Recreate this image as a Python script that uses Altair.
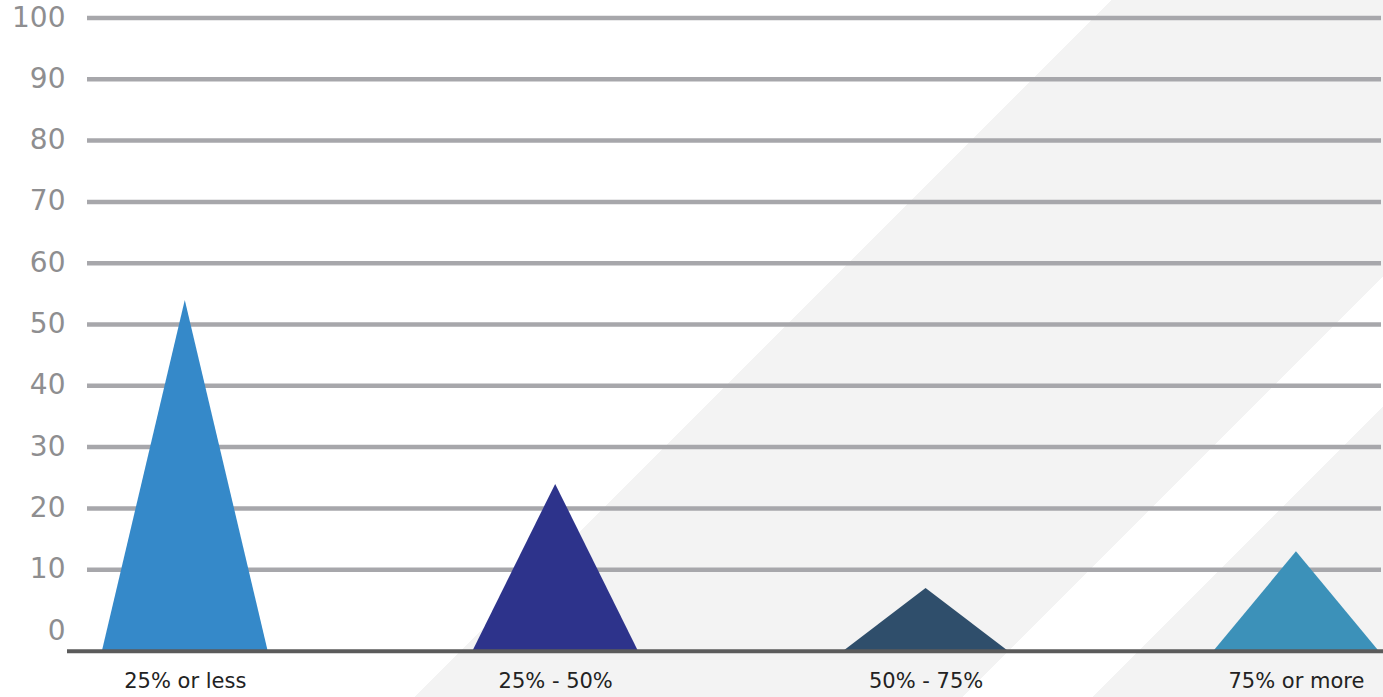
import json
import altair as alt
import pandas as pd

# ---- data ----
categories = ["25% or less", "25% - 50%", "50% - 75%", "75% or more"]
values = [54, 24, 7, 13]
colors = ["#3589c9", "#2d338b", "#2f4e6b", "#3c91b9"]
y_ticks = [0, 10, 20, 30, 40, 50, 60, 70, 80, 90, 100]
grid_values = [10, 20, 30, 40, 50, 60, 70, 80, 90, 100]

# ---- style constants ----
BASE = -3.3          # baseline drawn slightly below zero, as in the reference
HALF = 0.224         # half base width of a triangle, in category units
W, H = 1316, 656
PAD_L, PAD_B = 67, 41

# triangle vertex table built from the values
rows = []
for i, (c, v) in enumerate(zip(categories, values)):
    rows.append({"cat": c, "x": i - HALF, "y": BASE, "base": BASE})
    rows.append({"cat": c, "x": i, "y": v, "base": BASE})
    rows.append({"cat": c, "x": i + HALF, "y": BASE, "base": BASE})
tri = pd.DataFrame(rows)

xscale = alt.Scale(domain=[-0.318, 3.235], nice=False, zero=False)
yscale = alt.Scale(domain=[-4.078, 102.94], nice=False, zero=False)

label_expr = json.dumps(categories) + "[datum.value]"

# background diagonal stripes (decoration) via a hard-stop gradient
TW, TH = W + PAD_L, H + PAD_B
a = 2.0
b = 2.0 * TH / TW
den = (TW * TW + TH * TH) / TW * 2.0
t1, t2, t3 = 1112 / den, 1660 / den, 1790 / den
grad = alt.LinearGradient(
    gradient="linear",
    x1=0, y1=0, x2=a, y2=b,
    stops=[
        alt.GradientStop(offset=0, color="#ffffff"),
        alt.GradientStop(offset=t1, color="#ffffff"),
        alt.GradientStop(offset=t1, color="#f3f3f3"),
        alt.GradientStop(offset=t2, color="#f3f3f3"),
        alt.GradientStop(offset=t2, color="#ffffff"),
        alt.GradientStop(offset=t3, color="#ffffff"),
        alt.GradientStop(offset=t3, color="#f3f3f3"),
        alt.GradientStop(offset=1, color="#f3f3f3"),
    ],
)
bg = alt.Chart(pd.DataFrame({"k": [0]})).mark_rect(fill=grad, strokeWidth=0).encode(
    x=alt.value(-PAD_L), x2=alt.value(W), y=alt.value(0), y2=alt.value(TH)
)

xaxis = alt.Axis(
    values=[0, 1, 2, 3], labelExpr=label_expr, grid=False, domain=False,
    ticks=False, tickSize=0, labelFontSize=21, labelColor="#222222",
    labelBaseline="alphabetic", labelPadding=31, labelFlush=False,
    labelOverlap=False, labelFont="DejaVu Sans", zindex=2,
)
yaxis = alt.Axis(
    values=y_ticks, grid=False, domain=False, ticks=False, tickSize=0,
    labelFontSize=28, labelColor="#8e8e90", labelPadding=2,
    labelFont="DejaVu Sans", zindex=2,
)

grid = alt.Chart(pd.DataFrame({"g": grid_values})).mark_rule(
    color="#a7a7ab", strokeWidth=4.5
).encode(
    y=alt.Y("g:Q", scale=yscale, axis=yaxis, title=None),
    x=alt.value(20), x2=alt.value(W - 2),
)

triangles = alt.Chart(tri).mark_area(opacity=1).encode(
    x=alt.X("x:Q", scale=xscale, title=None, axis=xaxis),
    y=alt.Y("y:Q", scale=yscale, stack=None, title=None, axis=yaxis),
    y2="base:Q",
    color=alt.Color("cat:N", scale=alt.Scale(domain=categories, range=colors), legend=None),
    detail="cat:N",
)

baseline = alt.Chart(pd.DataFrame({"b": [BASE]})).mark_rule(
    color="#5b5b5b", strokeWidth=4
).encode(
    y=alt.Y("b:Q", scale=yscale, axis=yaxis, title=None),
    x=alt.value(0), x2=alt.value(W),
)

chart = alt.layer(bg, grid, triangles, baseline).properties(
    width=W, height=H,
    autosize=alt.AutoSizeParams(type="none"),
    padding={"left": PAD_L, "top": 0, "right": 0, "bottom": PAD_B},
).configure_view(stroke=None).configure(background="#ffffff")

chart.save("out.html", embed_options={"renderer": "svg", "actions": False})
